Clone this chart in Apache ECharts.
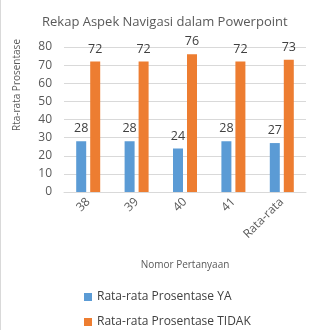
<!DOCTYPE html>
<html>
<head>
<meta charset="utf-8">
<script src="https://cdn.jsdelivr.net/npm/echarts@6/dist/echarts.min.js"></script>
<style>
  html, body { margin: 0; padding: 0; background: #fff; }
  #chart { width: 321px; height: 330px; }
</style>
</head>
<body>
<div id="chart"></div>
<script>
var categories = ['38', '39', '40', '41', 'Rata-rata'];
var seriesYa = [28, 28, 24, 28, 27];
var seriesTidak = [72, 72, 76, 72, 73];
var yTicks = [0, 10, 20, 30, 40, 50, 60, 70, 80];

var myChart = echarts.init(document.getElementById('chart'));
var font = '"Open Sans", "Liberation Sans", sans-serif';
var legendText = { fontSize: 12, color: '#404040', fontFamily: font };
var option = {
    color: ['#5B9BD5', '#ED7D31'],
    textStyle: { fontFamily: font },
    title: {
        text: 'Rekap Aspek Navigasi dalam Powerpoint',
        left: 37,
        top: 11,
        textStyle: { fontSize: 13, fontWeight: 'normal', color: '#595959', fontFamily: font }
    },
    // two legends stacked, one item each
    legend: [
        {
            left: 84, top: 291,
            padding: 0,
            itemWidth: 8, itemHeight: 8, icon: 'rect',
            textStyle: legendText,
            data: ['Rata-rata Prosentase YA']
        },
        {
            left: 84, top: 316,
            padding: 0,
            itemWidth: 8, itemHeight: 8, icon: 'rect',
            textStyle: legendText,
            data: ['Rata-rata Prosentase TIDAK']
        }
    ],
    grid: { left: 64, right: 15, top: 47, bottom: 138 },
    xAxis: {
        type: 'category',
        data: categories,
        name: 'Nomor Pertanyaan',
        nameLocation: 'middle',
        nameGap: 68,
        nameTextStyle: { fontSize: 10, color: '#595959' },
        axisTick: { show: false },
        axisLine: { lineStyle: { color: '#d9d9d9' } },
        axisLabel: { rotate: 45, fontSize: 12, color: '#595959', margin: 8 }
    },
    yAxis: {
        type: 'value',
        min: yTicks[0],
        max: yTicks[yTicks.length - 1],
        interval: 10,
        name: 'Rta-rata Prosentase',
        nameLocation: 'middle',
        nameGap: 42,
        nameTextStyle: { fontSize: 10, color: '#595959', padding: [0, 0, 0, 69] },
        axisLine: { show: false },
        axisTick: { show: false },
        axisLabel: { fontSize: 12, color: '#595959', margin: 12 },
        splitLine: { lineStyle: { color: '#d9d9d9' } }
    },
    graphic: [{
        type: 'line',
        shape: { x1: 0.5, y1: 0, x2: 0.5, y2: 330 },
        style: { stroke: '#d9d9d9', lineWidth: 1 }
    }],
    series: [
        {
            name: 'Rata-rata Prosentase YA',
            type: 'bar',
            data: seriesYa,
            barWidth: 10,
            barGap: '40%',
            label: { show: true, position: 'top', fontSize: 12.5, color: '#404040', distance: 6 }
        },
        {
            name: 'Rata-rata Prosentase TIDAK',
            type: 'bar',
            data: seriesTidak,
            barWidth: 10,
            barGap: '40%',
            label: { show: true, position: 'top', fontSize: 12.5, color: '#404040', distance: 6 }
        }
    ]
};
myChart.setOption(option);
</script>
</body>
</html>
